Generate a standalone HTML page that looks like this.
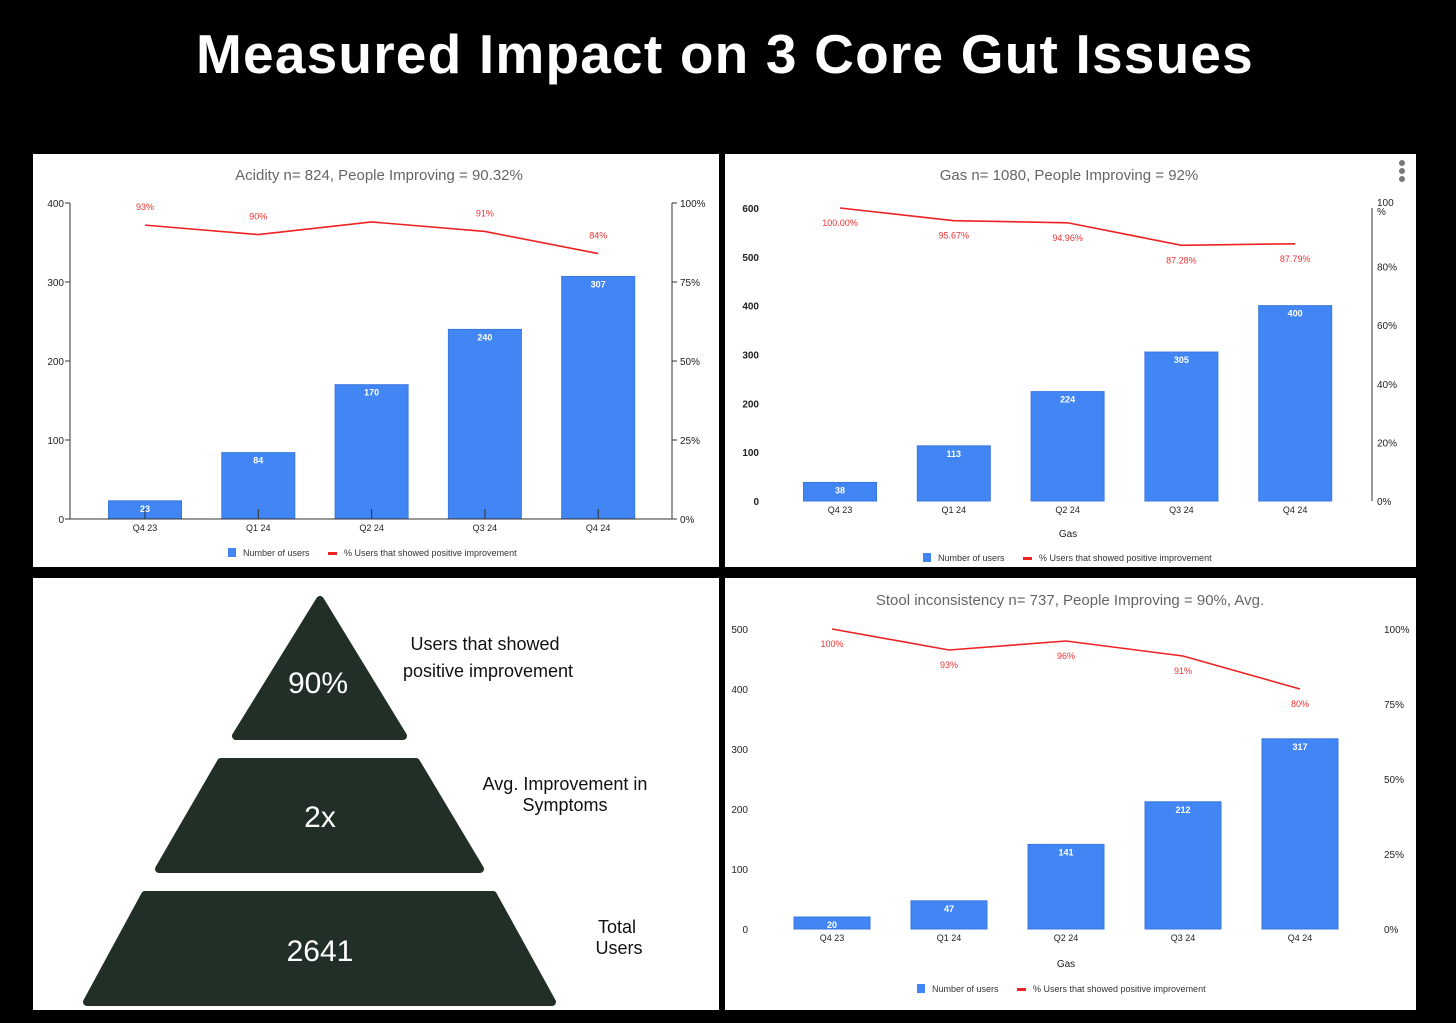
<!DOCTYPE html>
<html><head><meta charset="utf-8">
<style>
html,body{margin:0;padding:0;background:#000;}
body{width:1456px;height:1023px;overflow:hidden;position:relative;font-family:"Liberation Sans",Arial,sans-serif;}
#title{position:absolute;left:0;top:22px;width:1450px;text-align:center;color:#fff;font-size:55px;font-weight:bold;letter-spacing:1.2px;}
.panel{position:absolute;background:#fff;}
svg{position:absolute;left:0;top:0;}
</style></head>
<body>
<div id="title">Measured Impact on 3 Core Gut Issues</div>
<div class="panel" style="left:33px;top:154px;width:686px;height:413px"></div>
<div class="panel" style="left:725px;top:154px;width:691px;height:413px"></div>
<div class="panel" style="left:33px;top:578px;width:686px;height:432px"></div>
<div class="panel" style="left:725px;top:578px;width:691px;height:432px"></div>
<svg id="s" width="1456" height="1023">
  <g fill="#212f27" stroke="#212f27" stroke-width="8" stroke-linejoin="round">
    <polygon points="320,600 236,736 403,736"/>
    <polygon points="221,762 416,762 480,869 159,869"/>
    <polygon points="145,895 493,895 552,1002 87,1002"/>
  </g>
  <g font-family="Liberation Sans, sans-serif" fill="#fff" font-size="30" text-anchor="middle">
    <text x="318" y="693">90%</text>
    <text x="320" y="827">2x</text>
    <text x="320" y="961">2641</text>
  </g>
  <g font-family="Liberation Sans, sans-serif" fill="#111" font-size="18" text-anchor="middle">
    <text x="485" y="650">Users that showed</text>
    <text x="488" y="677">positive improvement</text>
    <text x="565" y="790">Avg. Improvement in</text>
    <text x="565" y="811">Symptoms</text>
    <text x="617" y="933">Total</text>
    <text x="619" y="954">Users</text>
  </g>
</svg>
<script>
const categories = ["Q4 23","Q1 24","Q2 24","Q3 24","Q4 24"];
const acidityUsers = [23,84,170,240,307];
const acidityPct = [93,90,94,91,84];
const acidityPctLabels = ["93%","90%","","91%","84%"];
const acidityLeftTicks = [0,100,200,300,400];
const acidityRightTicks = ["0%","25%","50%","75%","100%"];
const gasUsers = [38,113,224,305,400];
const gasPct = [100,95.67,94.96,87.28,87.79];
const gasPctLabels = ["100.00%","95.67%","94.96%","87.28%","87.79%"];
const gasLeftTicks = [0,100,200,300,400,500,600];
const gasRightTicks = ["0%","20%","40%","60%","80%","100"];
const stoolUsers = [20,47,141,212,317];
const stoolPct = [100,93,96,91,80];
const stoolPctLabels = ["100%","93%","96%","91%","80%"];
const stoolLeftTicks = [0,100,200,300,400,500];
const stoolRightTicks = ["0%","25%","50%","75%","100%"];

const NS="http://www.w3.org/2000/svg";
const svg=document.getElementById('s');
function mk(tag,attrs,parent){const e=document.createElementNS(NS,tag);for(const k in attrs)e.setAttribute(k,attrs[k]);(parent||svg).appendChild(e);return e;}
function txt(s,attrs,parent){const e=mk('text',attrs,parent);e.textContent=s;return e;}

function chart(o){
  const g=mk('g',{});
  
  
  const yL=v=>o.y0-(v/o.lmax)*(o.y0-o.yTop);
  const yR=v=>o.y0-(v/100)*(o.y0-o.yTop);
  const xC=i=>o.x0+o.step*i;
  const t=txt(o.title,{x:o.titleX,y:o.titleY,'font-size':15,fill:'#666','text-anchor':'middle','font-family':'Liberation Sans, sans-serif'},g);
  
  
  o.leftTicks.forEach(v=>{
    const l=txt(String(v),{x:o.leftLabelX,y:yL(v)+4,'font-size':10,fill:'#222','text-anchor':'end','font-weight':o.boldTicks?'bold':'normal'},g);
    
    
    if(o.axes){mk('line',{x1:o.axisL-5,x2:o.axisL,y1:yL(v),y2:yL(v),stroke:'#333'},g);}
  });
  o.rightTicks.forEach((s,i)=>{
    const v=i*100/(o.rightTicks.length-1);
    const l=txt(s,{x:o.rightLabelX,y:yR(v)+(o.splitTop&&i===o.rightTicks.length-1?-2:4),'font-size':10,fill:'#222'},g);
    
    
    if(o.splitTop&&i===o.rightTicks.length-1){
      const p=txt('%',{x:o.rightLabelX,y:yR(v)+7,'font-size':10,fill:'#222'},g);
      
      
    }
    if(o.axes){mk('line',{x1:o.axisR,x2:o.axisR+5,y1:yR(v),y2:yR(v),stroke:'#333'},g);}
  });
  if(o.axes){
    mk('line',{x1:o.axisL,x2:o.axisL,y1:o.yTop,y2:o.y0,stroke:'#333'},g);
    mk('line',{x1:o.axisR,x2:o.axisR,y1:o.yTop,y2:o.y0,stroke:'#333'},g);
  }
  if(o.rightLine){mk('line',{x1:o.rightLine,x2:o.rightLine,y1:o.yTop,y2:o.y0,stroke:'#333'},g);}
  o.users.forEach((v,i)=>{
    const r=mk('rect',{x:xC(i)-o.bw/2,y:yL(v),width:o.bw,height:o.y0-yL(v),fill:'#4285f4',stroke:'#3a78e0','stroke-width':1},g);
    
    
    const l=txt(String(v),{x:xC(i),y:yL(v)+11,'font-size':9,'font-weight':'bold',fill:'#fff','text-anchor':'middle'},g);
    
    
    const c=txt(categories[i],{x:xC(i),y:o.y0+12,'font-size':9,fill:'#222','text-anchor':'middle'},g);
    
    
    if(o.axes){mk('line',{x1:xC(i),x2:xC(i),y1:o.y0-10,y2:o.y0,stroke:'#333'},g);}
  });
  if(o.axes){mk('line',{x1:o.axisL,x2:o.axisR,y1:o.y0,y2:o.y0,stroke:'#333'},g);}
  const pts=o.pct.map((v,i)=>xC(i)+','+yR(v)).join(' ');
  const pl=mk('polyline',{points:pts,fill:'none',stroke:'#ee2222','stroke-width':1.6},g);
  
  
  o.pct.forEach((v,i)=>{
    if(!o.pctLabels[i])return;
    const y=o.labelAbove?yR(v)-15:yR(v)+18;
    const l=txt(o.pctLabels[i],{x:xC(i),y:y,'font-size':9,fill:'#ee3333','text-anchor':'middle'},g);
    
    
  });
  if(o.xTitle){const x=txt(o.xTitle,{x:o.xTitleX,y:o.xTitleY,'font-size':10,fill:'#222','text-anchor':'middle'},g);
    }
  const lg=mk('g',{},g);
  
  
  mk('rect',{x:o.legX,y:o.legY-8,width:8,height:9,fill:'#4285f4'},lg);
  txt('Number of users',{x:o.legX+15,y:o.legY,'font-size':9,fill:'#333'},lg);
  mk('rect',{x:o.legX+100,y:o.legY-4,width:9,height:3,fill:'#ee2222'},lg);
  txt('% Users that showed positive improvement',{x:o.legX+116,y:o.legY,'font-size':9,fill:'#333'},lg);
}

chart({name:'acidity-chart',title:'Acidity n= 824, People Improving = 90.32%',titleX:379,titleY:180,
  users:acidityUsers,pct:acidityPct,pctLabels:acidityPctLabels,leftTicks:acidityLeftTicks,rightTicks:acidityRightTicks,
  lmax:400,y0:519,yTop:203,x0:145,step:113.3,bw:73,axes:true,axisL:70,axisR:672,leftLabelX:64,rightLabelX:680,
  labelAbove:true,legX:228,legY:556});
chart({name:'gas-chart',title:'Gas n= 1080, People Improving = 92%',titleX:1069,titleY:180,
  users:gasUsers,pct:gasPct,pctLabels:gasPctLabels,leftTicks:gasLeftTicks,rightTicks:gasRightTicks,splitTop:true,
  lmax:600,y0:501,yTop:208,x0:840,step:113.8,bw:73,axes:false,rightLine:1372,leftLabelX:759,rightLabelX:1377,boldTicks:true,
  labelAbove:false,xTitle:'Gas',xTitleX:1068,xTitleY:537,legX:923,legY:561});
chart({name:'stool-chart',title:'Stool inconsistency n= 737, People Improving = 90%, Avg.',titleX:1070,titleY:605,
  users:stoolUsers,pct:stoolPct,pctLabels:stoolPctLabels,leftTicks:stoolLeftTicks,rightTicks:stoolRightTicks,
  lmax:500,y0:929,yTop:629,x0:832,step:117,bw:76,axes:false,leftLabelX:748,rightLabelX:1384,
  labelAbove:false,xTitle:'Gas',xTitleX:1066,xTitleY:967,legX:917,legY:992});
[0,1,2].forEach(i=>{const c=mk('circle',{cx:1402,cy:163+i*8,r:3,fill:'#777'});
  
  });
</script>
</body></html>
